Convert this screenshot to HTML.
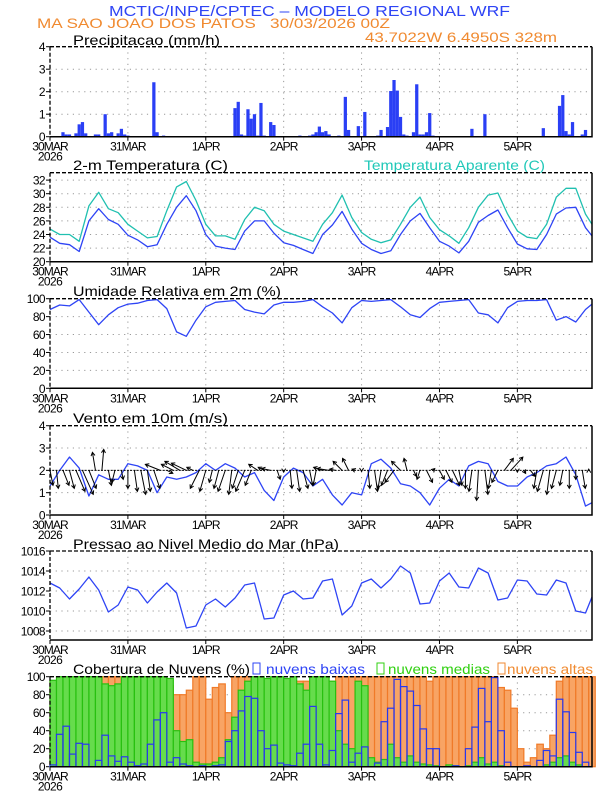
<!DOCTYPE html>
<html><head><meta charset="utf-8"><style>
html,body{margin:0;padding:0;background:#fff}
svg{display:block}
text{font-family:"Liberation Sans",sans-serif}
</style></head><body>
<svg id="chart" width="612" height="792" viewBox="0 0 612 792" xmlns="http://www.w3.org/2000/svg">
<rect width="612" height="792" fill="#fff"/>
<text x="109" y="16" font-size="15" fill="#2e44f5" textLength="401" lengthAdjust="spacingAndGlyphs">MCTIC/INPE/CPTEC – MODELO REGIONAL WRF</text>
<text x="37" y="28" font-size="14" fill="#f08a30" textLength="353" lengthAdjust="spacingAndGlyphs" xml:space="preserve">MA SAO JOAO DOS PATOS   30/03/2026 00Z</text>
<text x="365" y="42" font-size="14" fill="#f08a30" textLength="192" lengthAdjust="spacingAndGlyphs">43.7022W 6.4950S 328m</text>
<text x="73" y="45" font-size="14" fill="#000" textLength="147" lengthAdjust="spacingAndGlyphs">Precipitacao (mm/h)</text>
<text x="73" y="170" font-size="14" fill="#000" textLength="155" lengthAdjust="spacingAndGlyphs">2-m Temperatura (C)</text>
<text x="364" y="170" font-size="14" fill="#20c8b8" textLength="181" lengthAdjust="spacingAndGlyphs">Temperatura Aparente (C)</text>
<text x="73" y="296" font-size="14" fill="#000" textLength="208" lengthAdjust="spacingAndGlyphs">Umidade Relativa em 2m (%)</text>
<text x="73" y="423" font-size="14" fill="#000" textLength="155" lengthAdjust="spacingAndGlyphs">Vento em 10m (m/s)</text>
<text x="73" y="549" font-size="14" fill="#000" textLength="266" lengthAdjust="spacingAndGlyphs">Pressao ao Nivel Medio do Mar (hPa)</text>
<text x="73" y="674" font-size="14" fill="#000" textLength="177" lengthAdjust="spacingAndGlyphs">Cobertura de Nuvens (%)</text>
<rect x="253" y="663" width="7" height="11" fill="none" stroke="#2e44f5"/>
<text x="266" y="674" font-size="14" fill="#2e44f5" textLength="99" lengthAdjust="spacingAndGlyphs">nuvens baixas</text>
<rect x="377" y="663" width="7" height="11" fill="none" stroke="#30d010"/>
<text x="388" y="674" font-size="14" fill="#30d010" textLength="102" lengthAdjust="spacingAndGlyphs">nuvens medias</text>
<rect x="498" y="663" width="7" height="11" fill="none" stroke="#f08a30"/>
<text x="507" y="674" font-size="14" fill="#f08a30" textLength="86" lengthAdjust="spacingAndGlyphs">nuvens altas</text>
</svg>
<script>
const dayLabels=["30MAR","31MAR","1APR","2APR","3APR","4APR","5APR"];
const precipHours=[4,5,6,8,9,10,11,14,15,17,18,19,21,22,23,24,32,33,35,57,58,59,60,61,62,63,64,65,66,68,69,77,80,81,82,83,84,85,86,89,91,92,95,97,101,102,104,105,106,107,108,109,110,112,113,114,115,116,117,118,130,134,152,157,158,159,160,161,164,165];
const precipValues=[0.2,0.1,0.1,0.15,0.55,0.65,0.15,0.1,0.1,1.0,0.15,0.2,0.15,0.35,0.1,0.05,2.42,0.2,0.05,1.27,1.55,0.1,0.05,1.22,0.8,1.0,0.05,1.5,0.05,0.65,0.52,0.05,0.05,0.1,0.2,0.45,0.2,0.25,0.1,0.05,1.77,0.3,0.47,1.1,0.05,0.3,0.43,2.03,2.52,2.05,0.88,0.1,0.05,0.2,2.33,0.1,0.1,0.2,1.05,0.05,0.35,1.0,0.38,1.37,1.85,0.25,0.1,0.65,0.1,0.3];
const tempValues=[23.6,22.7,22.5,21.5,26.0,27.8,26.2,25.5,23.9,23.2,22.2,22.5,25.5,28.0,29.7,27.5,24.0,22.3,22.0,21.8,24.5,26.0,26.0,24.2,22.8,22.4,21.8,21.2,24.0,25.4,27.4,24.8,22.7,21.8,21.2,21.6,24.0,26.0,27.1,25.0,23.0,22.3,21.3,23.0,25.8,26.8,27.6,25.0,22.6,21.9,21.8,24.0,27.0,27.9,28.0,25.0,23.8];
const apparentValues=[24.8,24.0,24.0,23.0,28.2,30.2,27.8,27.2,25.5,24.5,23.5,23.7,27.5,31.0,31.8,29.0,25.5,23.8,23.8,23.3,26.2,28.0,27.5,25.5,24.5,24.0,23.5,23.0,25.5,27.2,29.8,26.5,24.3,23.3,22.8,23.2,25.5,28.0,29.5,26.5,24.7,23.8,22.7,25.0,28.0,29.8,30.1,27.0,24.5,23.6,23.4,25.5,29.5,30.8,30.8,27.0,25.5];
const humidityValues=[88,93,92,99,85,71,82,90,94,95,98,99,89,63,58,76,91,96,97,98,88,85,83,93,96,96,97,99,91,84,73,90,98,97,98,99,91,82,79,89,96,97,98,99,84,82,73,90,97,98,98,99,76,80,74,88,94];
const windSpeedValues=[1.3,2.0,2.6,2.1,0.85,1.8,1.6,1.6,2.3,2.2,2.0,1.0,1.7,1.6,1.7,1.9,2.3,2.0,2.3,2.1,1.7,1.9,1.1,0.65,1.7,2.1,1.9,1.3,1.6,0.9,0.45,1.0,0.9,2.3,2.5,2.1,1.4,1.3,1.0,0.45,1.2,1.6,1.3,2.2,2.4,2.3,1.5,1.3,1.3,1.7,1.9,2.2,2.3,2.6,1.8,0.4,0.55];
const pressureValues=[1012.8,1012.3,1011.2,1012.2,1013.4,1012.1,1009.9,1010.6,1012.4,1012.1,1010.8,1011.9,1012.8,1011.8,1008.3,1008.5,1010.6,1011.2,1010.4,1011.3,1012.6,1012.8,1009.2,1009.3,1011.6,1012.0,1011.2,1011.3,1013.0,1013.2,1009.6,1010.5,1012.8,1013.2,1012.3,1013.2,1014.5,1013.8,1010.7,1010.8,1013.0,1013.8,1012.4,1012.3,1014.3,1013.8,1011.1,1011.3,1013.1,1013.0,1011.7,1011.6,1013.1,1012.8,1010.0,1009.8,1011.4];
const arrowU=[0.5,0.3,1,0.8,1.5,1.8,1.2,-0.5,0.3,0.5,-0.5,0.3,0,0.5,0.8,0.5,1,-2.5,1,-2,-2.5,-2.5,-1,-1.5,-1,-0.5,-0.8,-1.2,-0.5,-1,-1.5,-1,-1.5,-1,-1.5,0.5,0,0.3,0.5,0.8,0.5,-0.5,-1.5,-2,-1,-1.5,-1,-0.5,0,0.3,0.5,-0.5,-1,-1.5,-1.5,-0.5,0.5,-0.5,1,0.3,0.8,1,1.2,0.5,0,-0.5,-0.3,0.5,-0.5,-1,1.5,2,0,0.3,0.8,-0.5,-1,-0.5,-0.8,-0.5,0,0,0.5,0];
const arrowV=[-2.5,-3,-2.5,-3,-3.5,-4,-3,3,3.5,-2.5,-2,-1.5,-3,-3.5,-4,-3.5,-3,1,-0.5,1,1.5,1.2,0.5,-3,-3.5,-2,-3,-3.5,-4,-3,-3.5,-2.5,1,0.5,0.3,-1.5,-0.3,-3,-3.5,-3,-2.5,-2.5,0.5,0.3,0.2,1.5,2,0.2,-0.2,-3,-3.5,-3,-2.5,-2,1.5,2,-1,-1.5,-2,0.3,-1.5,-2,-2.5,-2.5,-3,-3.5,-5,-4,-3,-2,2,2.2,-0.3,-0.5,-1,-3,-3.5,-4,-3,-2.5,-3,-1.5,-3,0.2];
const cloudLow=[2,36,45,14,26,25,0,7,35,12,6,11,5,1,3,25,52,60,5,10,3,1,0,1,0,1,2,28,40,62,78,76,40,20,24,4,2,1,15,25,67,25,2,18,59,74,5,15,22,0,4,50,65,97,89,84,68,42,20,20,0,0,1,0,20,44,87,50,99,40,5,0,0,1,0,7,18,12,75,61,38,16,5,0];
const cloudMid=[96,100,100,100,100,100,100,100,92,90,92,100,100,100,100,100,100,100,98,40,28,30,5,3,3,5,10,30,55,85,95,100,100,98,100,100,98,100,92,85,100,100,100,95,40,25,20,95,90,10,5,8,25,10,5,12,5,3,2,1,0,2,1,0,1,5,10,3,5,1,0,0,0,0,0,0,2,5,10,12,5,2,0,0];
const cloudHigh=[95,95,95,95,95,95,95,98,100,100,100,95,95,95,95,95,95,95,90,80,80,85,100,100,75,88,92,60,100,100,100,95,95,95,95,95,95,95,95,95,95,95,95,95,100,100,100,100,100,100,100,100,100,100,100,100,100,100,95,100,100,100,100,100,100,100,100,100,100,88,85,65,20,5,10,25,20,35,95,100,100,100,100,100];

const NS='http://www.w3.org/2000/svg';
const svg=document.getElementById('chart');
const L=50,R=592,HMAX=167;
function X(h){return L+(h/HMAX)*(R-L);}
function mk(tag,attrs,parent){const e=document.createElementNS(NS,tag);for(const k in attrs)e.setAttribute(k,attrs[k]);(parent||svg).appendChild(e);return e;}
function seriesHours(arr){return arr.map((_,i)=>i<arr.length-1?i*3:HMAX);}

function panel(name,top,bottom,vmin,vmax,ticks){
  const g=mk('g',{});
  
  
  const Y=v=>bottom-(v-vmin)/(vmax-vmin)*(bottom-top);
  ticks.forEach(t=>{
    const y=Y(t);
    if(y>top+1&&y<bottom-1){const gl=mk('line',{x1:L,x2:R,y1:y,y2:y,stroke:'#999','stroke-width':1,'stroke-dasharray':'1.2,4.5'},g);}
    const tk=mk('line',{x1:L-4,x2:L,y1:y,y2:y,stroke:'#000','stroke-width':1},g);
    
    const tx=mk('text',{x:L-5,y:y+4.5,'font-size':12,'text-anchor':'end',fill:'#000','letter-spacing':'-0.6'},g);
    tx.textContent=t;
    
  });
  dayLabels.forEach((d,i)=>{
    const x=X(i*24);
    if(i>0){const gl=mk('line',{x1:x,x2:x,y1:top,y2:bottom,stroke:'#999','stroke-width':1,'stroke-dasharray':'1.2,4.5'},g);}
    const tk=mk('line',{x1:x,x2:x,y1:bottom,y2:bottom+4,stroke:'#000','stroke-width':1},g);
    
    const tx=mk('text',{x:x,y:bottom+14,'font-size':12,'text-anchor':'middle',fill:'#000','letter-spacing':'-0.9'},g);
    tx.textContent=d;
    
  });
  const yr=mk('text',{x:L,y:bottom+24,'font-size':12,'text-anchor':'middle',fill:'#000','letter-spacing':'-0.6'},g);
  yr.textContent='2026';
  
  return {g,Y,top,bottom};
}
function frame(p,name){
  const a=mk('line',{x1:L,x2:R,y1:p.top,y2:p.top,stroke:'#000','stroke-width':1.3,'stroke-dasharray':'4,2'},p.g);
  
  const b=mk('line',{x1:L,x2:L,y1:p.top,y2:p.bottom,stroke:'#000','stroke-width':1.3,'stroke-dasharray':'4,2'},p.g);
  
  const c=mk('polyline',{points:`${R},${p.top} ${R},${p.bottom} ${L},${p.bottom}`,fill:'none',stroke:'#000','stroke-width':1.5},p.g);
  
}
function line(p,vals,color,name){
  const hs=seriesHours(vals);
  const pts=vals.map((v,i)=>X(hs[i]).toFixed(1)+','+p.Y(v).toFixed(1)).join(' ');
  const pl=mk('polyline',{points:pts,fill:'none',stroke:color,'stroke-width':1.3,'stroke-linejoin':'round'},p.g);
  
}
const hw=(R-L)/HMAX;

// Precip
const p1=panel('precip',46.7,136.7,0,4,[0,1,2,3,4]);
precipHours.forEach((h,i)=>{
  const y=p1.Y(precipValues[i]);
  const r=mk('rect',{x:X(h)-hw/2,y:y,width:hw,height:p1.bottom-y,fill:'#2a3ff5'},p1.g);
  
});
frame(p1,'precip');

// Temperature
const p2=panel('temp',172.7,261.7,20,20+(261.7-172.7)/6.8,[20,22,24,26,28,30,32]);
line(p2,apparentValues,'#20c0b0','apparent-temp-line');
line(p2,tempValues,'#2e44f5','temp-line');
frame(p2,'temp');

// Humidity
const p3=panel('humidity',298.7,388.3,0,100,[0,20,40,60,80,100]);
line(p3,humidityValues,'#2e44f5','humidity-line');
frame(p3,'humidity');

// Wind
const p4=panel('wind',425.7,515,0,4,[0,1,2,3,4]);
line(p4,windSpeedValues,'#2e44f5','wind-speed-line');
const y2=p4.Y(2);
for(let h=0;h<HMAX;h+=1){
  const d=mk('line',{x1:X(h)-1,x2:X(h)+1,y1:y2,y2:y2,stroke:'#000','stroke-width':1},p4.g);
  
}
arrowU.forEach((u,i)=>{
  const x0=X(i*2),y0=y2,x1=x0+u*6,y1=y0-arrowV[i]*6;
  const len=Math.hypot(x1-x0,y1-y0)||1;
  const ux=(x1-x0)/len,uy=(y1-y0)/len;
  const hx1=x1-ux*3.5+uy*2,hy1=y1-uy*3.5-ux*2,hx2=x1-ux*3.5-uy*2,hy2=y1-uy*3.5+ux*2;
  const a=mk('path',{d:`M${x0},${y0}L${x1},${y1}M${hx1},${hy1}L${x1},${y1}L${hx2},${hy2}`,stroke:'#000','stroke-width':1,fill:'none'},p4.g);
  
});
frame(p4,'wind');

// Pressure
const p5=panel('pressure',551,640,1016-(640-551)/10,1016,[1008,1010,1012,1014,1016]);
line(p5,pressureValues,'#2e44f5','pressure-line');
frame(p5,'pressure');

// Clouds
const p6=panel('cloud',676.7,766.7,0,100,[0,20,40,60,80,100]);
const bw=hw*2;
function cloudBars(vals,fill,stroke,name){
  vals.forEach((v,i)=>{
    const y=p6.Y(v);
    const r=mk('rect',{x:X(i*2),y:y,width:bw,height:p6.bottom-y,fill:fill,stroke:stroke,'stroke-width':1.2},p6.g);
    
  });
}
cloudBars(cloudHigh,'#f8a464','#f07a28','cloud-high-bar');
cloudBars(cloudMid,'#66dc4c','#28c010','cloud-mid-bar');
cloudBars(cloudLow,'none','#2838f0','cloud-low-bar');
frame(p6,'cloud');
</script>
</body></html>
